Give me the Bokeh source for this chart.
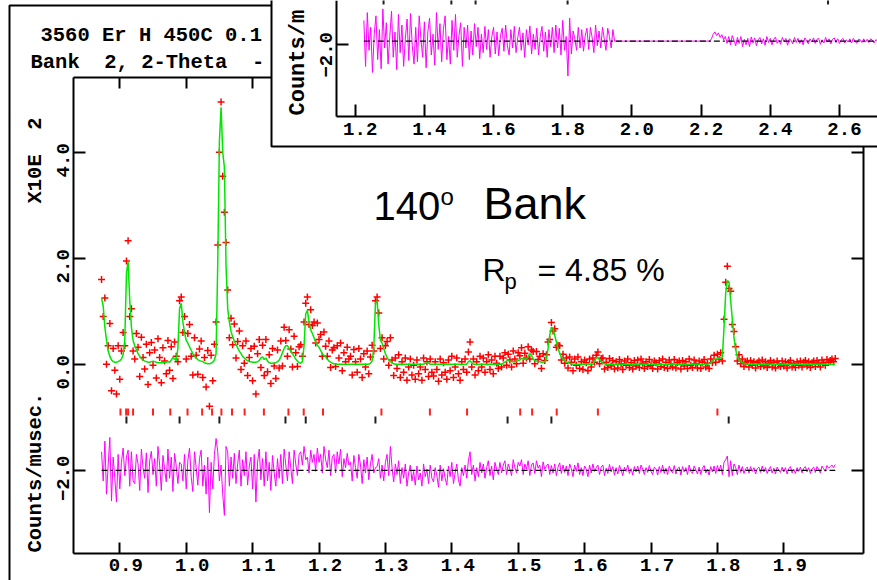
import numpy as np
from bokeh.plotting import figure
from bokeh.models import Range1d, LinearAxis, FixedTicker, CustomJSTickFormatter
from bokeh.core.properties import value
from bokeh.embed import file_html
from bokeh.resources import INLINE

# ---------------------------------------------------------------------------
# Bank 2 (140 deg) Rietveld fit, counts/musec x 10^2 on a regular d-spacing grid
# ---------------------------------------------------------------------------
D_START = 0.8725
D_STEP = 0.0025

calc = [
    1.25, 1.10, 0.70, 0.45, 0.25, 0.15, 0.08, 0.05, 0.04, 0.04,
    0.05, 0.07, 0.10, 0.18, 0.45, 1.70, 1.95, 1.20, 0.70, 0.45,
    0.35, 0.28, 0.20, 0.15, 0.11, 0.08, 0.06, 0.05, 0.04, 0.04,
    0.05, 0.06, 0.05, 0.04, 0.03, 0.03, 0.03, 0.03, 0.04, 0.04,
    0.05, 0.04, 0.08, 0.13, 0.10, 0.07, 0.30, 1.05, 1.15, 0.80,
    0.60, 0.45, 0.40, 0.33, 0.27, 0.20, 0.15, 0.12, 0.09, 0.07,
    0.06, 0.05, 0.03, 0.02, 0.01, 0.01, 0.02, 0.04, 0.08, 0.20,
    1.90, 4.20, 4.85, 4.00, 3.72, 1.85, 1.05, 0.80, 0.62, 0.52,
    0.44, 0.37, 0.31, 0.25, 0.20, 0.15, 0.12, 0.09, 0.07, 0.05,
    0.05, 0.04, 0.04, 0.04, 0.05, 0.07, 0.12, 0.14, 0.09, 0.12,
    0.06, 0.03, 0.02, 0.02, 0.02, 0.03, 0.05, 0.08, 0.14, 0.22,
    0.30, 0.35, 0.35, 0.30, 0.24, 0.20, 0.15, 0.10, 0.06, 0.03,
    0.02, 0.05, 0.35, 0.95, 1.02, 0.80, 0.65, 0.58, 0.50, 0.42,
    0.36, 0.32, 0.26, 0.20, 0.16, 0.14, 0.10, 0.06, 0.04, 0.02,
    0.01, 0.01, 0.00, 0.00, 0.00, 0.00, 0.00, 0.00, 0.00, 0.00,
    0.00, 0.00, 0.00, 0.00, 0.00, 0.00, 0.00, 0.00, 0.00, 0.00,
    0.00, 0.00, 0.02, 0.06, 0.30, 1.15, 1.20, 0.75, 0.45, 0.40,
    0.30, 0.20, 0.13, 0.08, 0.05, 0.03, 0.01, 0.00, 0.00, 0.00,
    0.00, 0.00, 0.00, 0.00, 0.00, 0.00, 0.00, 0.00, 0.00, 0.00,
    0.00, 0.00, 0.00, 0.00, 0.00, 0.02, 0.03, 0.02, 0.00, 0.00,
    0.00, 0.00, 0.00, 0.00, 0.00, 0.00, 0.00, 0.00, 0.00, 0.00,
    0.00, 0.00, 0.00, 0.00, 0.00, 0.00, 0.00, 0.00, 0.00, 0.00,
    0.00, 0.05, 0.07, 0.03, 0.00, 0.00, 0.00, 0.00, 0.00, 0.00,
    0.00, 0.00, 0.00, 0.00, 0.00, 0.00, 0.00, 0.00, 0.00, 0.00,
    0.00, 0.00, 0.02, 0.04, 0.06, 0.07, 0.06, 0.05, 0.05, 0.05,
    0.06, 0.07, 0.08, 0.11, 0.10, 0.09, 0.10, 0.15, 0.20, 0.17,
    0.10, 0.07, 0.06, 0.05, 0.05, 0.04, 0.04, 0.05, 0.10, 0.30,
    0.55, 0.70, 0.68, 0.55, 0.42, 0.30, 0.21, 0.14, 0.09, 0.06,
    0.04, 0.03, 0.02, 0.01, 0.00, 0.00, 0.00, 0.00, 0.00, 0.00,
    0.00, 0.00, 0.01, 0.00, 0.00, 0.00, 0.00, 0.06, 0.12, 0.13,
    0.09, 0.05, 0.02, 0.01, 0.00, 0.00, 0.00, 0.00, 0.00, 0.00,
    0.00, 0.00, 0.00, 0.00, 0.00, 0.00, 0.00, 0.00, 0.00, 0.00,
    0.00, 0.00, 0.00, 0.00, 0.00, 0.00, 0.00, 0.00, 0.00, 0.00,
    0.00, 0.00, 0.00, 0.00, 0.00, 0.00, 0.00, 0.00, 0.00, 0.00,
    0.00, 0.00, 0.00, 0.00, 0.00, 0.00, 0.00, 0.00, 0.00, 0.00,
    0.00, 0.00, 0.00, 0.00, 0.00, 0.00, 0.00, 0.00, 0.00, 0.00,
    0.00, 0.00, 0.00, 0.00, 0.00, 0.00, 0.01, 0.03, 0.06, 0.09,
    0.10, 0.10, 0.11, 0.12, 0.14, 0.70, 1.35, 1.58, 1.55, 1.20,
    0.85, 0.50, 0.28, 0.14, 0.08, 0.05, 0.03, 0.02, 0.01, 0.00,
    0.00, 0.00, 0.00, 0.00, 0.00, 0.00, 0.00, 0.00, 0.00, 0.00,
    0.00, 0.00, 0.00, 0.00, 0.00, 0.00, 0.00, 0.00, 0.00, 0.00,
    0.00, 0.00, 0.00, 0.00, 0.00, 0.00, 0.00, 0.00, 0.00, 0.00,
    0.00, 0.00, 0.00, 0.00, 0.00, 0.00, 0.00, 0.00, 0.00, 0.00,
    0.00, 0.00, 0.00, 0.00, 0.00, 0.00, 0.00, 0.00, 0.00, 0.00,
    0.00, 0.00, 0.00,
]

# observed minus calculated at the same grid points
obs_minus_calc = [
    0.35, -0.20, 0.55, -0.45, 0.10, 0.62, -0.58, 0.25, -0.15, -0.60,
    0.30, -0.35, 0.15, 0.42, -0.10, 0.25, 0.38, -0.30, 0.35, -0.20,
    -0.25, 0.30, 0.12, -0.38, 0.40, 0.05, -0.15, 0.33, -0.42, 0.18,
    0.36, -0.08, 0.22, -0.30, 0.45, 0.10, -0.38, 0.28, 0.02, -0.22,
    0.40, -0.15, 0.25, -0.40, 0.32, 0.08, -0.25, 0.15, 0.12, -0.20,
    0.30, -0.35, 0.18, 0.42, -0.12, -0.40, 0.35, 0.05, -0.28, 0.22,
    0.38, -0.30, 0.10, -0.45, 0.25, -0.80, 0.15, -0.35, 0.30, 0.60,
    0.35, -0.20, 0.10, -0.45, -0.85, 0.45, 0.35, -0.30, 0.25, -0.15,
    0.32, -0.25, 0.12, 0.38, -0.30, 0.20, -0.10, 0.35, -0.28, 0.08,
    0.25, -0.35, 0.30, -0.60, 0.15, 0.40, -0.18, 0.22, -0.30, 0.35,
    -0.20, 0.15, -0.38, 0.28, -0.05, -0.30, 0.22, -0.15, 0.30, -0.25,
    0.40, 0.10, -0.20, 0.35, 0.05, -0.25, 0.38, 0.12, -0.10, 0.30,
    0.35, 0.10, 0.45, 0.20, 0.25, -0.05, 0.38, 0.15, 0.30, -0.02,
    0.42, 0.15, 0.30, -0.05, 0.45, 0.20, 0.05, 0.38, -0.10, 0.25,
    0.30, -0.05, 0.35, 0.12, 0.40, -0.12, 0.22, 0.05, 0.32, 0.10,
    0.15, -0.20, 0.28, 0.05, -0.15, 0.30, 0.10, -0.25, 0.20, -0.05,
    0.25, -0.18, 0.12, 0.30, -0.05, 0.05, 0.07, 0.22, -0.15, 0.10,
    -0.20, 0.15, 0.30, -0.10, 0.45, 0.05, -0.22, 0.12, -0.08, 0.18,
    -0.25, 0.05, -0.15, 0.12, -0.30, -0.05, 0.10, -0.20, -0.02, -0.28,
    0.08, -0.18, -0.05, -0.30, 0.12, -0.12, 0.02, -0.25, 0.10, -0.15,
    -0.22, 0.05, -0.10, -0.32, 0.10, -0.20, 0.03, -0.15, -0.28, 0.08,
    -0.12, 0.15, -0.25, -0.05, 0.12, -0.18, -0.30, 0.05, -0.10, 0.10,
    -0.15, 0.18, 0.35, -0.08, 0.10, -0.20, 0.05, -0.12, 0.15, -0.05,
    0.12, -0.15, 0.05, 0.18, -0.10, 0.08, -0.18, 0.15, 0.02, -0.08,
    0.15, -0.05, 0.10, 0.18, -0.08, 0.12, 0.02, -0.10, 0.20, 0.05,
    -0.05, 0.15, 0.08, 0.20, -0.08, 0.12, 0.02, 0.18, -0.10, 0.10,
    0.14, -0.06, 0.18, 0.04, 0.10, -0.12, 0.16, 0.02, 0.08, 0.12,
    -0.08, 0.09, -0.05, 0.12, -0.10, 0.06, 0.14, -0.06, 0.10, -0.04,
    0.08, -0.10, 0.12, 0.03, -0.12, 0.10, -0.02, 0.14, -0.08, 0.05,
    -0.10, 0.08, 0.02, -0.12, 0.10, -0.05, 0.12, -0.02, 0.05, 0.10,
    -0.08, 0.06, 0.10, -0.10, 0.04, -0.06, 0.11, -0.03, 0.07, -0.09,
    0.05, -0.07, 0.09, 0.01, -0.10, 0.06, -0.02, 0.10, -0.06, 0.03,
    -0.09, 0.07, -0.03, 0.08, -0.06, 0.10, 0.02, -0.08, 0.05, -0.04,
    0.09, -0.02, -0.08, 0.06, 0.03, -0.09, 0.07, -0.04, 0.10, -0.06,
    0.04, -0.08, 0.08, 0.00, -0.05, 0.09, -0.07, 0.03, 0.06, -0.09,
    0.07, -0.03, 0.05, -0.08, 0.10, -0.02, -0.06, 0.08, 0.01, -0.07,
    0.06, -0.08, 0.04, 0.09, -0.05, 0.02, -0.09, 0.07, -0.03, 0.08,
    -0.06, 0.09, -0.02, 0.10, -0.08, 0.15, 0.20, 0.27, -0.12, 0.18,
    -0.10, 0.12, 0.05, -0.08, 0.10, -0.04, 0.07, -0.06, 0.03, 0.06,
    -0.05, 0.07, -0.02, 0.05, -0.07, 0.03, 0.06, -0.04, 0.08, -0.03,
    0.05, -0.06, 0.02, 0.07, -0.05, 0.04, -0.07, 0.06, 0.00, -0.04,
    0.06, -0.03, 0.05, -0.07, 0.03, 0.07, -0.05, 0.02, -0.06, 0.05,
    -0.02, 0.06, -0.05, 0.04, 0.07, -0.03, 0.05, -0.06, 0.03, 0.06,
    -0.04, 0.07, 0.02, -0.05, 0.08, 0.03, -0.02, 0.09, 0.04, 0.07,
    0.10, 0.05, 0.11,
]

# reflection positions (d-spacing) of the two phases
refl_red = [0.901, 0.9095, 0.9125, 0.920, 0.950, 0.976, 1.002, 1.024, 1.039,
            1.053, 1.069, 1.088, 1.117, 1.154, 1.177, 1.206, 1.294, 1.367,
            1.423, 1.503, 1.521, 1.558, 1.620, 1.800]
refl_black = [0.910, 0.990, 1.050, 1.1495, 1.180, 1.285, 1.484, 1.550, 1.817]

x_ticks = [0.9, 1.0, 1.1, 1.2, 1.3, 1.4, 1.5, 1.6, 1.7, 1.8, 1.9]
y_ticks = [-2.0, 0.0, 2.0, 4.0]
DIFF_OFFSET = -2.0

# ---------------------------------------------------------------------------
# companion bank: difference curve only
# ---------------------------------------------------------------------------
INSET_START = 1.225
INSET_STEP = 0.005
inset_diff = [
    0.45, -0.55, 0.62, -0.20, 0.30, -0.68, 0.15, 0.55, -0.40, 0.25,
    -0.60, 0.70, -0.15, 0.40, -0.50, 0.10, 0.65, -0.35, 0.20, -0.62,
    0.58, -0.25, 0.35, -0.55, 0.05, 0.48, -0.42, 0.60, -0.10, -0.50,
    0.30, -0.45, 0.55, 0.05, -0.35, 0.42, -0.58, 0.20, 0.50, -0.30,
    0.15, -0.52, 0.62, -0.18, 0.38, -0.45, 0.25, 0.55, -0.40, 0.10,
    -0.50, 0.45, -0.20, 0.58, -0.35, 0.12, 0.40, -0.55, 0.30, -0.15,
    0.35, -0.40, 0.22, -0.30, 0.38, -0.12, 0.30, -0.38, 0.15, -0.25,
    0.32, -0.18, 0.25, -0.35, 0.10, 0.30, -0.28, 0.20, -0.32, 0.12,
    0.28, -0.22, 0.35, -0.10, -0.30, 0.25, -0.15, 0.32, -0.25, 0.08,
    0.30, -0.20, 0.18, -0.35, 0.25, -0.08, 0.33, -0.28, 0.15, -0.18,
    0.28, -0.30, 0.10, 0.32, -0.22, 0.20, -0.35, 0.25, -0.12, 0.30,
    -0.25, 0.35, -0.15, 0.28, -0.30, 0.45, -0.20, 0.10, -0.76, 0.50,
    -0.28, 0.22, 0.05, -0.20, 0.30, -0.15, 0.25, -0.22, 0.12, 0.28,
    -0.18, 0.30, 0.08, -0.25, 0.35, -0.10, 0.22, -0.15, 0.30, 0.05,
    -0.20, 0.28, 0.10, -0.15, 0.25, 0.00,
    0.00, 0.00, 0.00, 0.00, 0.00, 0.00, 0.00, 0.00, 0.00, 0.00,
    0.00, 0.00, 0.00, 0.00, 0.00, 0.00, 0.00, 0.00, 0.00, 0.00,
    0.00, 0.00, 0.00, 0.00, 0.00, 0.00, 0.00, 0.00, 0.00, 0.00,
    0.00, 0.00, 0.00, 0.00, 0.00, 0.00, 0.00, 0.00, 0.00, 0.00,
    0.00, 0.00, 0.00, 0.00, 0.00, 0.00, 0.00, 0.00, 0.00, 0.00,
    0.00, 0.00, 0.00, 0.00, 0.00,
    0.05, 0.15, 0.20, 0.12, 0.18, 0.08, 0.14, 0.03, 0.10, -0.05,
    0.10, -0.08, 0.12, 0.02, -0.10, 0.08, -0.05, 0.10, -0.12, 0.04,
    -0.08, 0.06, -0.12, 0.09, -0.04, 0.07, -0.10, 0.03, 0.08, -0.06,
    0.05, -0.09, 0.10, -0.03, 0.06, -0.08, 0.04, 0.09, -0.05, 0.02,
    -0.07, 0.08, -0.02, 0.06, -0.09, 0.05, 0.02, -0.06, 0.08, -0.03,
    0.06, -0.05, 0.03, -0.08, 0.07, 0.01, -0.06, 0.05, -0.02, 0.07,
    -0.05, 0.04, 0.06, -0.07, 0.03, -0.04, 0.08, -0.02, 0.05, -0.06,
    0.04, 0.07, -0.03, 0.05, -0.05, 0.02, 0.06, -0.04, 0.03, -0.02,
    0.05, -0.04, 0.06, 0.00, -0.05, 0.04, 0.03, -0.03, 0.05, -0.02,
    0.04, -0.03, 0.05, 0.02, -0.04, 0.03, 0.01,
]
inset_refl = [1.282, 1.478, 1.548, 1.814, 2.567]
inset_x_ticks = [1.2, 1.4, 1.6, 1.8, 2.0, 2.2, 2.4, 2.6]
inset_y_ticks = [-2.0]
INSET_OFFSET = -1.92

# ---------------------------------------------------------------------------
# page geometry (pixels): the frame fills the page, helpers map pixels to data
# ---------------------------------------------------------------------------
W, H = 877, 580
PX_X, PX_Y = 664.0, 53.0
X_LEFT = 0.9 - 119.3 / PX_X
Y_TOP = 363.8 / PX_Y
IPX_X, IPX_Y = 345.9, 46.0
IX_LEFT = 1.2 - 354.7 / IPX_X
IY_TOP = -2.0 + 44.3 / IPX_Y
BASE_LIFT = 0.37   # text anchor lift, in em, so glyph baselines land where wanted


def fx(px):
    return X_LEFT + px / PX_X


def fy(py):
    return Y_TOP - py / PX_Y


def fyt(py, size):
    # data y for a text baseline at page pixel row py
    return fy(py - BASE_LIFT * size)


def ifx(px):
    return IX_LEFT + px / IPX_X


def ify(py):
    return IY_TOP - py / IPX_Y


MAIN_L, MAIN_R, MAIN_T, MAIN_B = 72.7, 863.0, 76.7, 552.7
BOX_L, BOX_B = 271.0, 146.0
IN_L, IN_B = 335.7, 116.0
DASH_DOT = "6 3 2 3"

MONO = "Liberation Mono"
SANS = "Liberation Sans"

p = figure(width=W, height=H, output_backend="svg", toolbar_location=None,
           x_range=Range1d(fx(0), fx(W)), y_range=Range1d(fy(H), fy(0)),
           x_axis_type=None, y_axis_type=None, min_border=0)
p.outline_line_color = None
p.background_fill_color = "white"
p.border_fill_color = "white"
p.extra_x_ranges = {"ix": Range1d(ifx(0), ifx(W))}
p.extra_y_ranges = {"iy": Range1d(ify(H), ify(0))}

# GSAS-style labels: one decimal, true minus sign; `shift` undoes the small
# offset at which the labels sit beside their tick marks
LABEL_JS = """
const v = tick + shift;
const t = Math.abs(v).toFixed(1);
return (v < -0.05) ? "\\u2212" + t : t;
"""


def tick_axis(ticks, loc, bounds, tick_len, **kw):
    ax = LinearAxis(ticker=FixedTicker(ticks=ticks), fixed_location=loc, bounds=bounds, **kw)
    ax.major_tick_in = tick_len
    ax.major_tick_out = 0
    ax.minor_tick_line_color = None
    ax.axis_line_width = 2
    ax.axis_line_color = "black"
    ax.major_tick_line_width = 2
    ax.major_tick_line_color = "black"
    ax.major_label_text_color = None
    return ax


def label_axis(ticks, shift, loc, standoff, vertical=False, **kw):
    ax = LinearAxis(ticker=FixedTicker(ticks=[t - shift for t in ticks]), fixed_location=loc,
                    formatter=CustomJSTickFormatter(code=LABEL_JS, args={"shift": shift}), **kw)
    ax.axis_line_color = None
    ax.major_tick_line_color = None
    ax.minor_tick_line_color = None
    ax.major_tick_in = 0
    ax.major_tick_out = 0
    ax.major_label_text_font = MONO
    ax.major_label_text_font_size = "19px"
    ax.major_label_text_font_style = "bold"
    ax.major_label_text_color = "black"
    ax.major_label_standoff = standoff
    if vertical:
        ax.major_label_orientation = "vertical"
    return ax


# ---- main plot ------------------------------------------------------------
d = D_START + D_STEP * np.arange(len(calc))
calc_a = np.array(calc)
resid_a = np.array(obs_minus_calc)
obs = calc_a + resid_a

p.scatter(d, obs, marker="cross", size=7, line_color="#ff0000", line_width=1.5)
p.line(d, calc_a, line_color="#00e600", line_width=1.5)
p.line(d, resid_a + DIFF_OFFSET, line_color="#ff00ff", line_width=1)
p.line([d[0], d[-1]], [DIFF_OFFSET, DIFF_OFFSET], line_color="black",
       line_width=1.2, line_dash=DASH_DOT)

p.segment(x0=refl_red, x1=refl_red, y0=fy(415), y1=fy(408),
          line_color="#ff2020", line_width=2)
p.segment(x0=refl_black, x1=refl_black, y0=fy(423), y1=fy(416),
          line_color="#202020", line_width=2)

p.add_layout(tick_axis(x_ticks, fy(MAIN_B), (fx(MAIN_L), fx(MAIN_R)), 11), "below")
p.add_layout(label_axis(x_ticks, -6 / PX_X, fy(MAIN_B), 6), "below")
p.add_layout(tick_axis([t for t in x_ticks if fx(BOX_L) > t], fy(MAIN_T),
                       (fx(MAIN_L), fx(BOX_L)), 11), "above")
p.add_layout(tick_axis(y_ticks, fx(MAIN_L), (fy(MAIN_B), fy(MAIN_T)), 12), "left")
p.add_layout(label_axis(y_ticks, 8 / PX_Y, fx(MAIN_L), 4, vertical=True), "left")
p.add_layout(tick_axis(y_ticks, fx(MAIN_R), (fy(MAIN_B), fy(BOX_B)), 12), "right")

# outer frame of the plot page
p.line([fx(9), fx(9), fx(W + 5)], [fy(H + 5), fy(5), fy(5)], line_color="black", line_width=2)

# header and axis titles
p.text(x=[fx(40), fx(30)], y=[fyt(43, 20.5), fyt(70, 20.5)],
       text=["3560 Er H 450C 0.1", "Bank\u00a0\u00a02, 2-Theta\u00a0\u00a0-"],
       text_font=value(MONO), text_font_size="20.5px", text_font_style="bold",
       text_align="left", text_baseline="alphabetic", text_color="black")
p.text(x=[fx(35), fx(35)], y=[fy(203), fy(552)],
       text=["X10E\u00a0\u00a02", "Counts/musec."],
       text_font=value(MONO), text_font_size="20.5px", text_font_style="bold",
       angle=np.pi / 2, text_align="left", text_baseline="middle", text_color="black")

# bank label and agreement factor
p.text(x=[fx(373)], y=[fyt(220, 40)], text=["140"],
       text_font=value(SANS), text_font_size="40px",
       text_align="left", text_baseline="alphabetic", text_color="black")
p.text(x=[fx(483)], y=[fyt(220, 45)], text=["Bank"],
       text_font=value(SANS), text_font_size="45px",
       text_align="left", text_baseline="alphabetic", text_color="black")
p.text(x=[fx(440)], y=[fyt(205, 24)], text=["o"],
       text_font=value(SANS), text_font_size="24px",
       text_align="left", text_baseline="alphabetic", text_color="black")
p.text(x=[fx(482), fx(537)], y=[fyt(281, 32), fyt(281, 32)], text=["R", "= 4.85 %"],
       text_font=value(SANS), text_font_size="32px",
       text_align="left", text_baseline="alphabetic", text_color="black")
p.text(x=[fx(504)], y=[fyt(289, 22)], text=["p"],
       text_font=value(SANS), text_font_size="22px",
       text_align="left", text_baseline="alphabetic", text_color="black")

# ---- inset: difference curve of the companion bank -------------------------
p.quad(left=fx(BOX_L), right=fx(W + 10), bottom=fy(BOX_B), top=fy(-10),
       fill_color="white", line_color=None)
p.line([fx(BOX_L), fx(BOX_L), fx(W + 10)], [fy(-10), fy(BOX_B), fy(BOX_B)],
       line_color="black", line_width=2)

di = INSET_START + INSET_STEP * np.arange(len(inset_diff))
inset_a = np.array(inset_diff)
p.line(di, inset_a + INSET_OFFSET, line_color="#ff00ff", line_width=1,
       x_range_name="ix", y_range_name="iy")
p.line([di[0], ifx(W + 10)], [INSET_OFFSET, INSET_OFFSET], line_color="black",
       line_width=1.2, line_dash=DASH_DOT, x_range_name="ix", y_range_name="iy")
p.segment(x0=inset_refl, x1=inset_refl, y0=ify(4), y1=ify(-3),
          line_color="#202020", line_width=2, x_range_name="ix", y_range_name="iy")

inset_names = dict(x_range_name="ix", y_range_name="iy")
p.add_layout(tick_axis(inset_x_ticks, ify(IN_B), (ifx(IN_L), ifx(W + 10)), 12, **inset_names), "below")
p.add_layout(label_axis(inset_x_ticks, -5 / IPX_X, ify(IN_B), 6, **inset_names), "below")
p.add_layout(tick_axis(inset_y_ticks, ifx(IN_L), (ify(IN_B), ify(-10)), 12, **inset_names), "left")
p.add_layout(label_axis(inset_y_ticks, 10 / IPX_Y, ifx(IN_L), 4, vertical=True, **inset_names), "left")

p.text(x=[fx(298)], y=[fy(115)], text=["Counts/m"],
       text_font=value(MONO), text_font_size="22px", text_font_style="bold",
       angle=np.pi / 2, text_align="left", text_baseline="middle", text_color="black")

open("out.html", "w").write(file_html(p, INLINE))
